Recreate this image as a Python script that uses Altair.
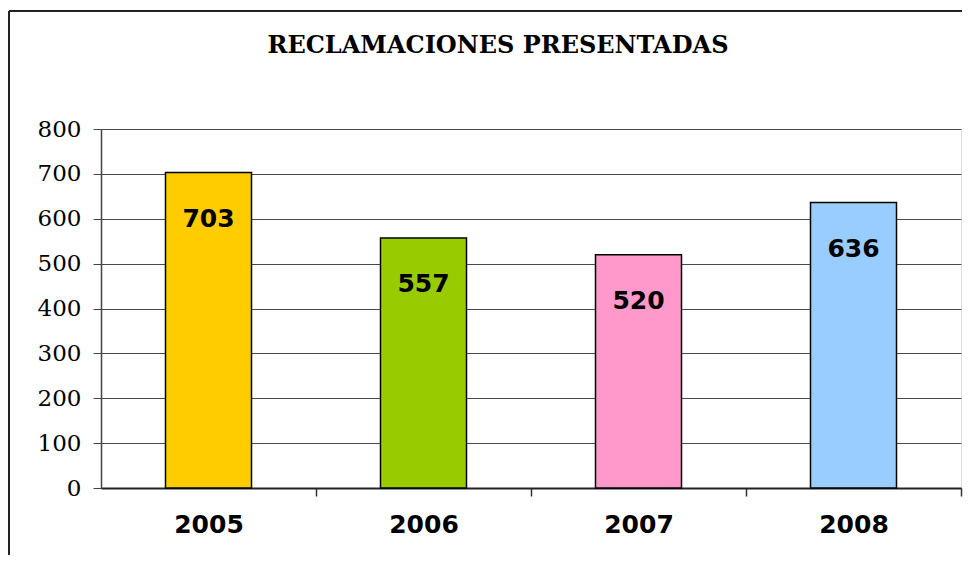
import altair as alt
import pandas as pd

years = ["2005", "2006", "2007", "2008"]
values = [703, 557, 520, 636]
colors = ["#FFCC00", "#99CC00", "#FF99CC", "#99CCFF"]
y_ticks = [0, 100, 200, 300, 400, 500, 600, 700, 800]

df = pd.DataFrame({"year": years, "value": values})

W, H = 860, 359
half_step = W / 4 / 2

x_enc = alt.X(
    "year:N",
    sort=years,
    title=None,
    scale=alt.Scale(paddingInner=0.6, paddingOuter=0.3),
    axis=alt.Axis(
        labelAngle=0,
        labelFont="DejaVu Sans",
        labelFontWeight="bold",
        labelFontSize=25,
        labelColor="black",
        labelPadding=16,
        tickOffset=half_step,
        labelOffset=-half_step,
        tickSize=8,
        tickColor="#333333",
        tickWidth=1.5,
        domainColor="#222222",
        domainWidth=2,
    ),
)

y_enc = alt.Y(
    "value:Q",
    title=None,
    scale=alt.Scale(domain=[0, 800], nice=False),
    axis=alt.Axis(
        values=y_ticks,
        labelFont="DejaVu Serif",
        labelFontSize=23,
        labelColor="black",
        labelPadding=12,
        tickSize=8,
        tickColor="#444444",
        domainColor="#444444",
        domainWidth=1.5,
        grid=True,
        gridColor="#4a4a4a",
        gridWidth=1,
    ),
)

bars = alt.Chart(df).mark_bar(stroke="black", strokeWidth=1.5).encode(
    x=x_enc,
    y=y_enc,
    color=alt.Color("year:N", scale=alt.Scale(domain=years, range=colors), legend=None),
)

labels = alt.Chart(df).mark_text(
    baseline="middle", dy=46, font="DejaVu Sans", fontWeight="bold", fontSize=25, color="black"
).encode(
    x=alt.X("year:N", sort=years),
    y=alt.Y("value:Q"),
    text="value:Q",
)

frame_top = alt.Chart(df).mark_rule(color="#222222", strokeWidth=1.5).encode(
    x=alt.value(-92), x2=alt.value(861), y=alt.value(-118)
)
frame_left = alt.Chart(df).mark_rule(color="#222222", strokeWidth=1.5).encode(
    x=alt.value(-92), y=alt.value(-118), y2=alt.value(426)
)

chart = (
    alt.layer(bars, labels, frame_top, frame_left)
    .properties(
        width=W,
        height=H,
        padding={"left": 0, "top": 2, "right": 0, "bottom": 0},
        title=alt.TitleParams(
            "RECLAMACIONES PRESENTADAS",
            font="DejaVu Serif",
            fontSize=24,
            fontWeight="bold",
            color="black",
            anchor="middle",
            frame="group",
            baseline="bottom",
            offset=0,
            dx=-33,
            dy=72,
        ),
    )
    .configure_view(fill="#C0C0C0", stroke="#888888", strokeWidth=2)
    .configure(background="white")
)

chart.save("out.html", embed_options={"renderer": "svg", "actions": False})
